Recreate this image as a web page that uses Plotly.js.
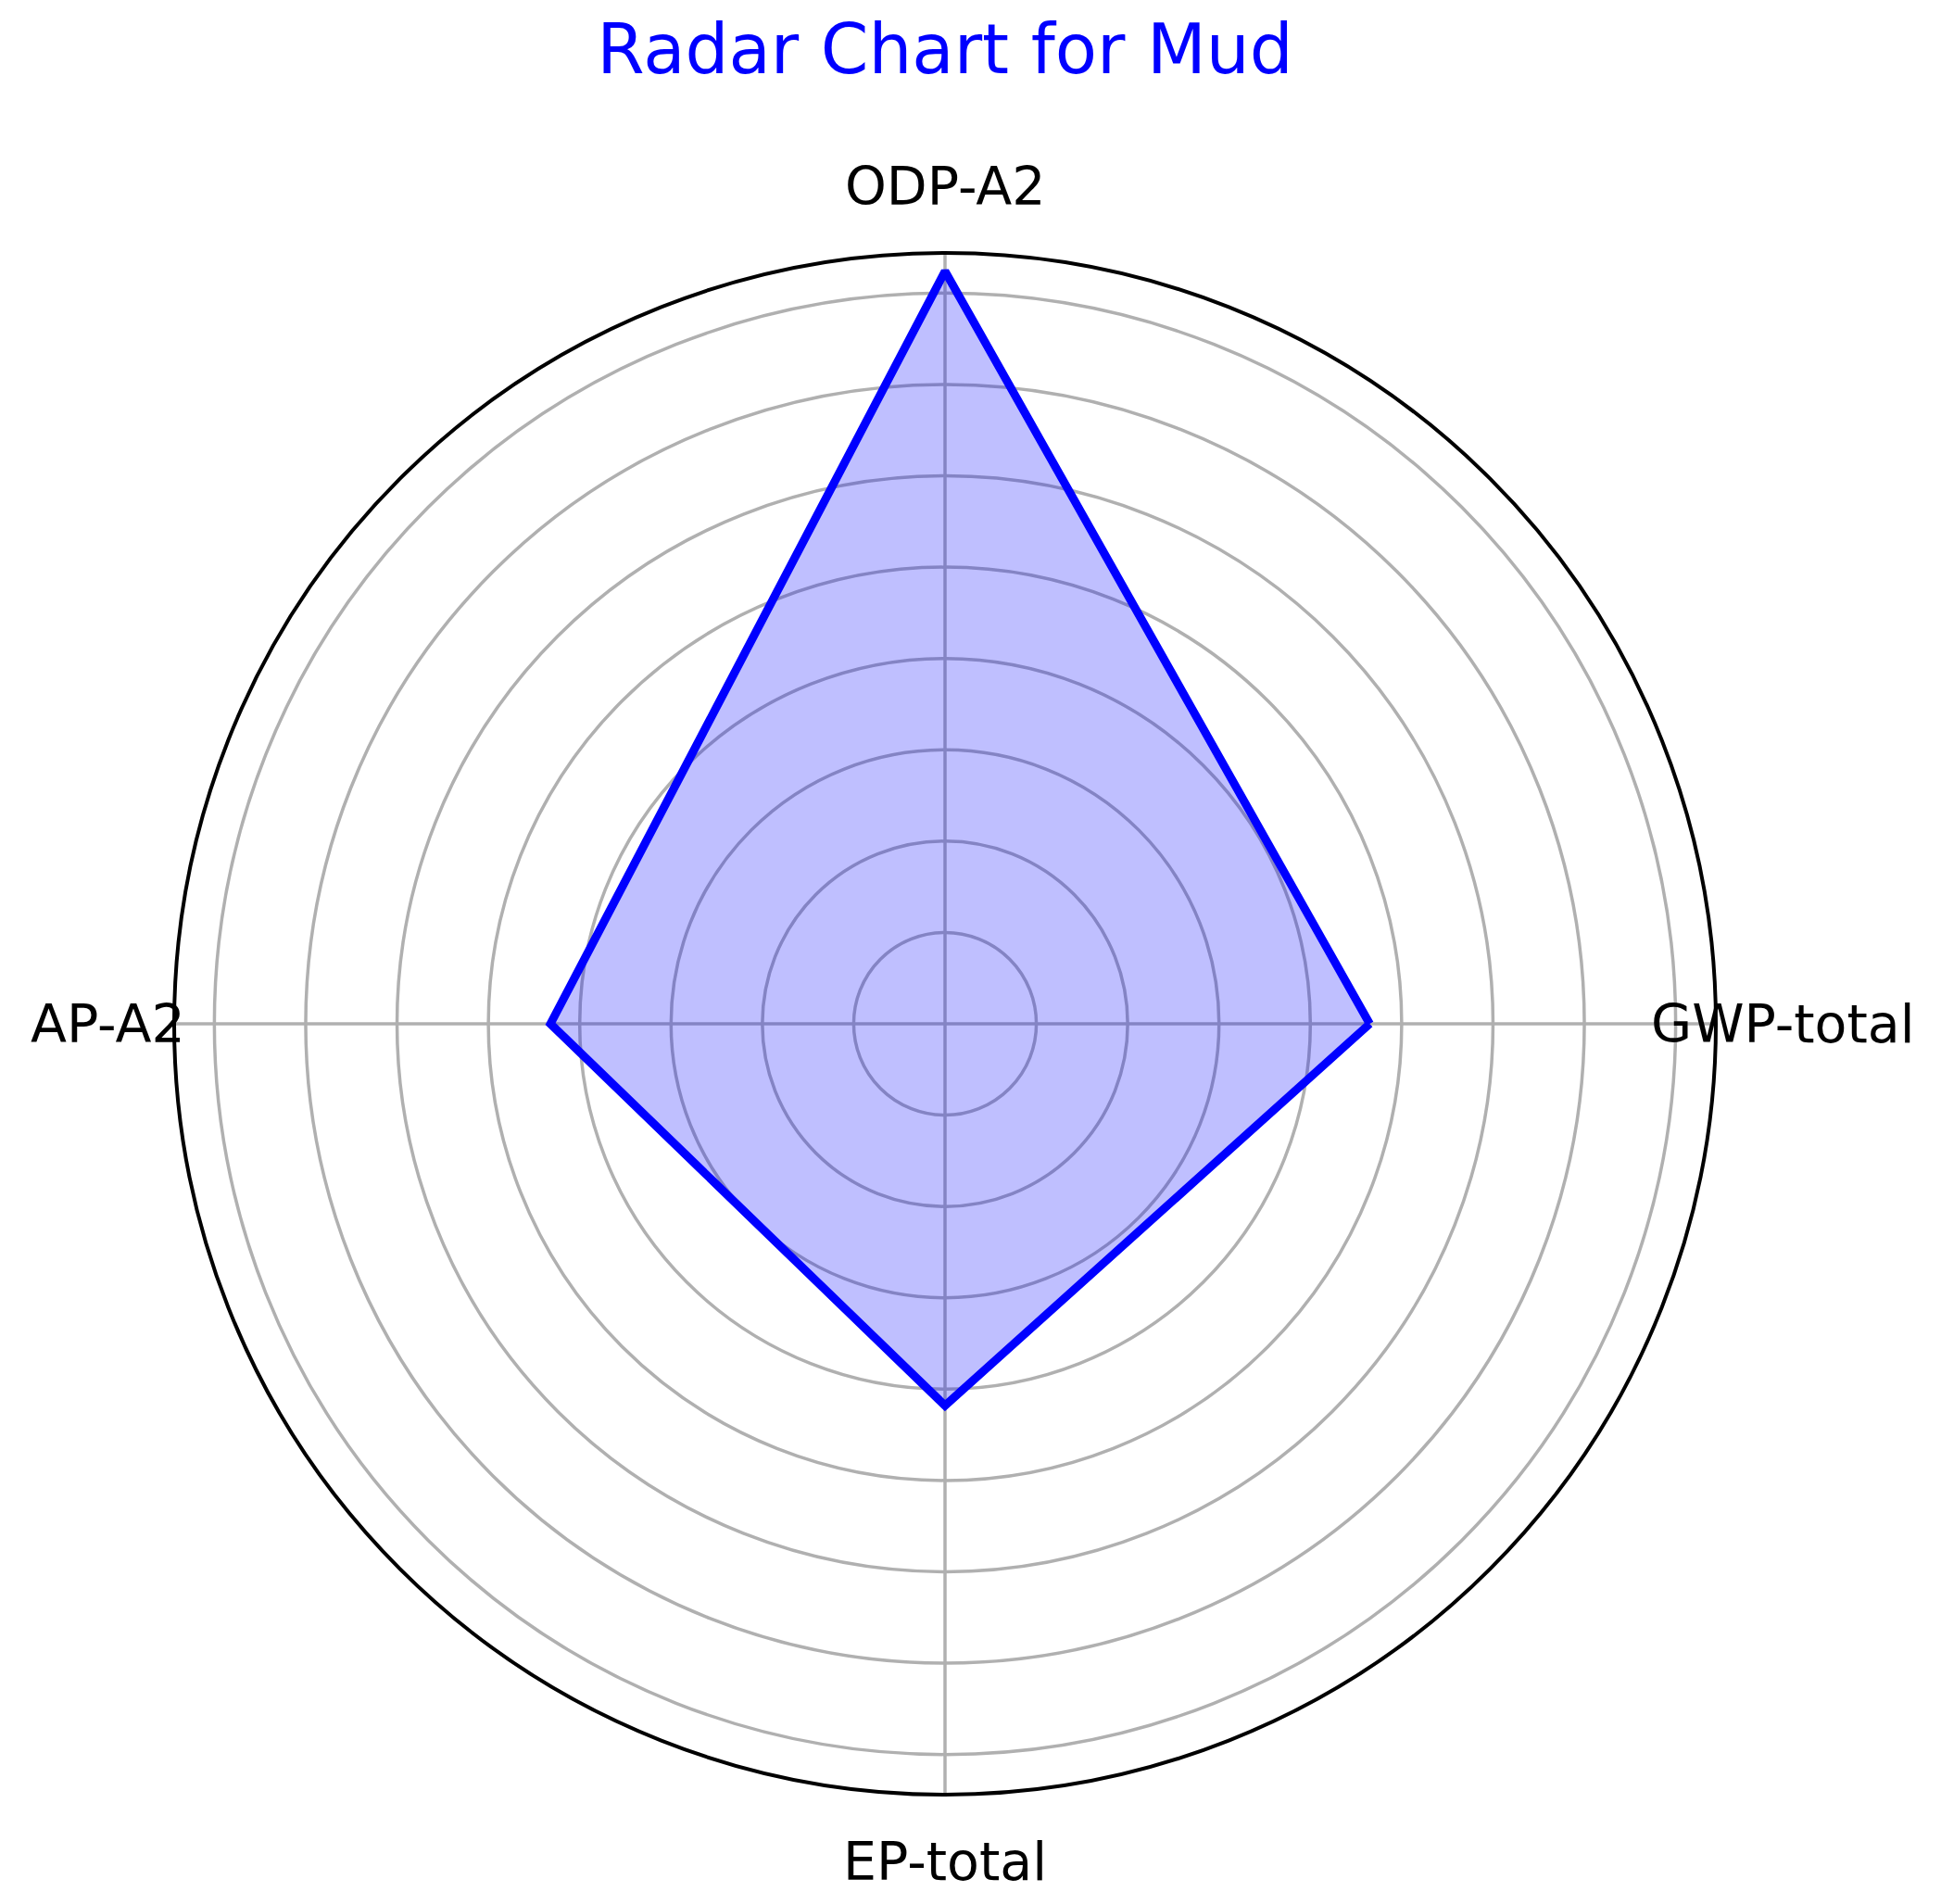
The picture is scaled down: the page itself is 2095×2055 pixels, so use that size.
<!DOCTYPE html>
<html>
<head>
<meta charset="utf-8">
<script src="https://cdn.plot.ly/plotly-3.0.1.min.js"></script>
<style>html,body{margin:0;padding:0;background:#fff;}#chart{width:2095px;height:2055px;}</style>
</head>
<body>
<div id="chart"></div>
<script>
// Data
const categories = ['GWP-total', 'ODP-A2', 'AP-A2', 'EP-total'];
const values = [4.65, 8.24, 4.32, 4.18];
const chartTitle = 'Radar Chart for Mud';

const W = 2095, H = 2055;
const cx = 1020, cy = 1105, R = 832;
const labelR = 904;

const theta = categories.concat([categories[0]]);
const r = values.concat([values[0]]);

const trace = {
  type: 'scatterpolar',
  r: r,
  theta: theta,
  mode: 'lines',
  fill: 'toself',
  fillcolor: 'rgba(0,0,255,0.25)',
  line: {color: '#0000ff', width: 9},
  hoverinfo: 'skip',
  showlegend: false
};

// category labels placed like matplotlib's theta tick labels
const annotations = categories.map((c, i) => {
  const ang = i * 2 * Math.PI / categories.length;
  const px = cx + labelR * Math.cos(ang);
  const py = cy - labelR * Math.sin(ang);
  return {
    text: c, xref: 'paper', yref: 'paper',
    x: px / W, y: 1 - py / H,
    xanchor: 'center', yanchor: 'middle',
    showarrow: false,
    font: {family: 'DejaVu Sans', size: 57, color: '#000000'}
  };
});

const layout = {
  width: W, height: H,
  margin: {l: 0, r: 0, t: 0, b: 0},
  paper_bgcolor: '#ffffff',
  title: {
    text: chartTitle,
    font: {family: 'DejaVu Sans', size: 74, color: '#0000ff'},
    x: cx / W, xanchor: 'center',
    y: 1 - 53 / H, yanchor: 'middle'
  },
  polar: {
    domain: {x: [(cx - R) / W, (cx + R) / W], y: [1 - (cy + R) / H, 1 - (cy - R) / H]},
    bgcolor: '#ffffff',
    radialaxis: {
      range: [0, 8.44], dtick: 1, tick0: 0,
      showticklabels: false, ticks: '', showline: false,
      gridcolor: '#b0b0b0', gridwidth: 3.5
    },
    angularaxis: {
      type: 'category',
      categoryarray: categories,
      rotation: 0, direction: 'counterclockwise',
      showticklabels: false, ticks: '',
      showline: true, linecolor: '#000000', linewidth: 4,
      gridcolor: '#b0b0b0', gridwidth: 3.5
    }
  },
  annotations: annotations,
  showlegend: false
};

Plotly.newPlot('chart', [trace], layout, {displayModeBar: false, staticPlot: true});
</script>
</body>
</html>
